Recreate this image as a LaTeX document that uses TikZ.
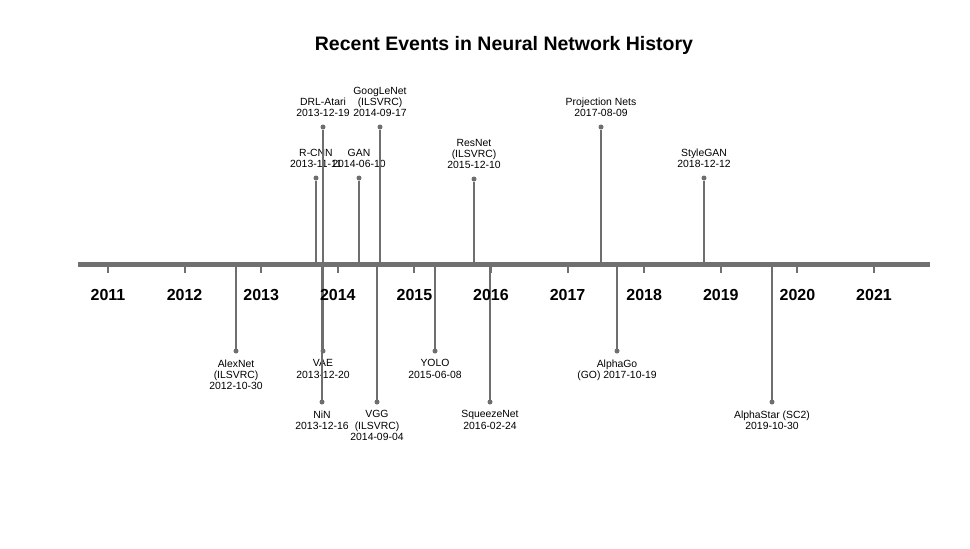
\documentclass[tikz,border=0pt]{standalone}
\usepackage{fontspec}
\setmainfont{Liberation Sans}
\usetikzlibrary{positioning}
\definecolor{AxisGray}{HTML}{707070}
\definecolor{StemGray}{HTML}{6E6E6E}

\begin{document}
\begin{tikzpicture}[x=1pt,y=-1pt]
    \tikzset{
      axisline/.style={line width=4.5pt,draw=AxisGray},
      yeartick/.style={line width=2pt,draw=AxisGray},
      yearlabel/.style={font=\fontsize{16}{18}\selectfont\bfseries,inner sep=0pt,anchor=base},
      stem/.style={line width=1.4pt,draw=StemGray},
      dot/.style={circle,fill=StemGray,inner sep=0pt,outer sep=0pt,minimum size=5pt},
      evlabel/.style={align=center,inner sep=0pt,font=\fontsize{10.4}{11.2}\selectfont}
    }
    \useasboundingbox (0,0) rectangle (970,549);
    \node[font=\fontsize{19.5}{22}\selectfont\bfseries,anchor=base] (title) at (504,50)
      {Recent Events in Neural Network History};
    % events above the axis
    \foreach \ex/\ey/\nm/\txt in {
        316/178/rcnn/{R-CNN\\2013-11-11},
        359/178/gan/{GAN\\2014-06-10},
        323/127/drl/{DRL-Atari\\2013-12-19},
        380/127/googlenet/{GoogLeNet\\(ILSVRC)\\2014-09-17},
        474/179/resnet/{ResNet\\(ILSVRC)\\2015-12-10},
        601/127/projnets/{Projection Nets\\2017-08-09},
        704/178/stylegan/{StyleGAN\\2018-12-12}}{
      \coordinate (b-\nm) at (\ex,264.5);
      \node[dot] (d-\nm) at (\ex,\ey) {};
      \draw[stem] (b-\nm) -- (d-\nm);
      \node[evlabel,above=7.5pt of d-\nm] (l-\nm) {\txt};
    }
    % events below the axis
    \foreach \ex/\ey/\nm/\txt in {
        236/351/alexnet/{AlexNet\\(ILSVRC)\\2012-10-30},
        323/351/vae/{VAE\\2013-12-20},
        322/402/nin/{NiN\\2013-12-16},
        377/402/vgg/{VGG\\(ILSVRC)\\2014-09-04},
        435/351/yolo/{YOLO\\2015-06-08},
        490/402/squeezenet/{SqueezeNet\\2016-02-24},
        617/351/alphago/{AlphaGo\\(GO) 2017-10-19},
        772/402/alphastar/{AlphaStar (SC2)\\2019-10-30}}{
      \coordinate (b-\nm) at (\ex,264.5);
      \node[dot] (d-\nm) at (\ex,\ey) {};
      \draw[stem] (b-\nm) -- (d-\nm);
      \node[evlabel,below=6pt of d-\nm] (l-\nm) {\txt};
    }
    \coordinate (axisL) at (78,264.5);
    \coordinate (axisR) at (930,264.5);
    \draw[axisline] (axisL) -- (axisR);
    \foreach \yr [count=\i from 0] in {2011,...,2021}{
      \coordinate (t-\yr) at (108+\i*76.6,264.5);
      \coordinate (te-\yr) at (108+\i*76.6,273);
      \draw[yeartick] (t-\yr) -- (te-\yr);
      \node[yearlabel] (y-\yr) at (108+\i*76.6,300) {\yr};
    }
\end{tikzpicture}
\end{document}
